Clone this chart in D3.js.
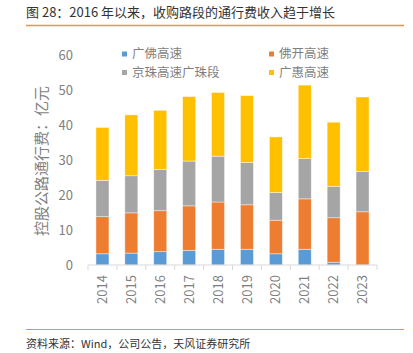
<!DOCTYPE html>
<html><head><meta charset="utf-8">
<script src="https://cdn.jsdelivr.net/npm/d3@7"></script>
<style>
html,body{margin:0;padding:0;background:#fff;}
svg{display:block;font-family:"Noto Sans CJK SC","Noto Sans",sans-serif;}
</style></head>
<body>
<svg id="c" width="413" height="353"></svg>
<script>
const years = ["2014","2015","2016","2017","2018","2019","2020","2021","2022","2023"];
const seriesNames = ["广佛高速","佛开高速","京珠高速广珠段","广惠高速"];
const guangfo   = [3.2,3.4,3.8,4.2,4.5,4.5,3.2,4.5,0.8,0];
const fokai     = [10.6,11.5,11.7,12.7,13.5,12.7,9.6,14.4,12.7,15.2];
const jingzhu   = [10.4,10.6,11.8,12.8,13.1,12.1,7.9,11.5,9.0,11.5];
const guanghui  = [15.1,17.4,16.9,18.4,18.2,19.1,15.9,21.0,18.3,21.3];
const yTicks = [0,10,20,30,40,50,60];
const colors = ["#5B9BD5","#ED7D31","#A5A5A5","#FFC000"];

const svg = d3.select("#c");
const keys = ["guangfo","fokai","jingzhu","guanghui"];
const table = years.map((y,i)=>({year:y,guangfo:guangfo[i],fokai:fokai[i],jingzhu:jingzhu[i],guanghui:guanghui[i]}));
const stack = d3.stack().keys(keys)(table);

const x = d3.scaleBand().domain(years).range([88,377]).paddingInner(0.55).paddingOuter(0.275);
const y = d3.scaleLinear().domain([0,60]).range([265,55]);

// title
svg.append("text").attr("x",26).attr("y",17).attr("font-size",13).attr("fill","#333")
  .text("图 28：2016 年以来，收购路段的通行费收入趋于增长");
svg.append("line").attr("x1",26).attr("x2",404).attr("y1",25.5).attr("y2",25.5)
  .attr("stroke","#F0923A").attr("stroke-width",1.5);
svg.append("line").attr("x1",26).attr("x2",404).attr("y1",329.5).attr("y2",329.5)
  .attr("stroke","#F0923A").attr("stroke-width",1.2);
svg.append("text").attr("x",26).attr("y",348).attr("font-size",11).attr("fill","#333")
  .text("资料来源：Wind，公司公告，天风证券研究所");

// bars
svg.append("g").selectAll("g").data(stack).join("g")
  .attr("fill",(d,i)=>colors[i])
  .selectAll("rect").data(d=>d).join("rect")
  .attr("x",d=>x(d.data.year)).attr("width",x.bandwidth())
  .attr("y",d=>y(d[1])).attr("height",d=>Math.max(0,y(d[0])-y(d[1])))
  .attr("stroke","rgba(255,255,255,0.6)").attr("stroke-width",0.7);

// x axis
const step = x.step();
const gx = svg.append("g").attr("transform","translate(0,265)");
gx.append("line").attr("x1",88).attr("x2",377).attr("stroke","#D9D9D9").attr("stroke-width",1);
const bounds = years.map(yr=>x(yr)-step*x.paddingInner()/2).concat([377]);
gx.selectAll("line.t").data(bounds).join("line").attr("class","t")
  .attr("x1",d=>d).attr("x2",d=>d).attr("y1",0).attr("y2",5).attr("stroke","#D9D9D9");
gx.selectAll("text").data(years).join("text")
  .attr("transform",d=>`translate(${x(d)+x.bandwidth()/2},10) rotate(-90)`)
  .attr("text-anchor","end").attr("dy","0.35em").attr("font-size",13).attr("fill","#7F7F7F")
  .text(d=>d);

// y axis
const gy = svg.append("g").attr("transform","translate(88,0)")
  .call(d3.axisLeft(y).tickValues(yTicks).tickSize(0).tickPadding(15));
gy.select(".domain").remove();
gy.selectAll("text").attr("font-size",13).attr("fill","#7F7F7F").attr("font-family",'"Noto Sans CJK SC","Noto Sans",sans-serif');

// y title
svg.append("text").attr("transform","translate(42,161) rotate(-90)").attr("text-anchor","middle")
  .attr("dy","0.35em").attr("font-size",15).attr("fill","#7F7F7F").text("控股公路通行费：亿元");

// legend
const legPos = [[122,54],[269,54],[122,72.5],[269,72.5]];
const lg = svg.append("g").selectAll("g").data(seriesNames).join("g")
  .attr("transform",(d,i)=>`translate(${legPos[i][0]},${legPos[i][1]})`);
lg.append("rect").attr("x",0).attr("y",-2.5).attr("width",5).attr("height",5).attr("fill",(d,i)=>colors[i]);
lg.append("text").attr("x",10).attr("dy","0.35em").attr("font-size",12.5).attr("fill","#7F7F7F").text(d=>d);
</script>
</body></html>
